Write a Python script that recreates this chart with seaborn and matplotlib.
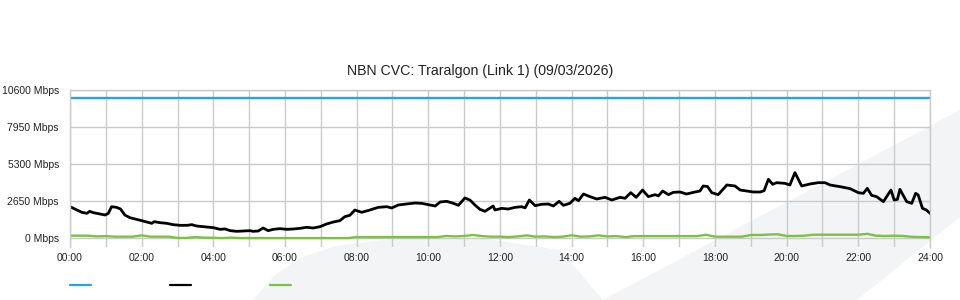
import matplotlib
matplotlib.use("Agg")
import matplotlib.pyplot as plt
import seaborn as sns
import pandas as pd
from matplotlib.lines import Line2D
from matplotlib.patches import Polygon

# ---- data ----
capacity_hours = [0, 24]
capacity_mbps = [10000, 10000]

traffic_hours = [0.00, 0.19, 0.33, 0.47, 0.55, 0.65, 0.84, 0.98, 1.07, 1.16, 1.30, 1.41, 1.53, 1.67,
                 1.86, 2.00, 2.14, 2.28, 2.35, 2.51, 2.70, 2.88, 3.07, 3.26, 3.40, 3.53, 3.72, 3.91,
                 4.00, 4.19, 4.33, 4.47, 4.65, 4.84, 5.02, 5.11, 5.25, 5.39, 5.53, 5.67, 5.86, 6.05,
                 6.23, 6.42, 6.60, 6.79, 6.98, 7.16, 7.35, 7.53, 7.67, 7.81, 7.95, 8.14, 8.37, 8.60,
                 8.84, 8.98, 9.16, 9.39, 9.63, 9.81, 10.00, 10.19, 10.33, 10.51, 10.70, 10.84, 11.02,
                 11.16, 11.30, 11.44, 11.58, 11.81, 11.86, 12.05, 12.23, 12.42, 12.60, 12.70, 12.82,
                 12.98, 13.16, 13.35, 13.49, 13.65, 13.77, 13.95, 14.09, 14.19, 14.33, 14.51, 14.70,
                 14.93, 15.12, 15.35, 15.49, 15.65, 15.80, 15.98, 16.14, 16.33, 16.42, 16.54, 16.70,
                 16.84, 17.02, 17.21, 17.40, 17.58, 17.67, 17.79, 17.91, 18.09, 18.33, 18.56, 18.70,
                 18.88, 19.07, 19.26, 19.37, 19.49, 19.61, 19.72, 19.95, 20.09, 20.23, 20.42, 20.65,
                 20.88, 21.07, 21.21, 21.49, 21.77, 22.00, 22.14, 22.25, 22.37, 22.51, 22.70, 22.91,
                 23.00, 23.09, 23.16, 23.35, 23.49, 23.60, 23.67, 23.79, 23.90, 24.00]
traffic_mbps = [2262, 2027, 1862, 1790, 1933, 1838, 1743, 1672, 1790, 2262, 2215, 2098, 1672, 1482,
                1364, 1269, 1174, 1079, 1198, 1126, 1079, 984, 937, 937, 984, 889, 842, 795,
                771, 652, 680, 557, 510, 533, 557, 510, 533, 747, 557, 652, 700, 652,
                676, 723, 795, 747, 842, 1031, 1174, 1269, 1553, 1648, 2027, 1862, 2027, 2215,
                2262, 2170, 2383, 2454, 2525, 2502, 2407, 2312, 2597, 2644, 2502, 2360, 2881,
                2739, 2383, 2074, 1933, 2312, 2027, 2145, 2098, 2215, 2262, 2180, 2739,
                2336, 2431, 2454, 2312, 2644, 2360, 2502, 2858, 2692, 3165, 2976, 2810,
                2929, 2739, 2929, 2858, 3260, 2929, 3449, 2976, 3118, 3030, 3379, 3118,
                3284, 3308, 3165, 3284, 3379, 3735, 3700, 3260, 3118, 3806, 3735, 3450,
                3379, 3308, 3308, 3403, 4211, 3855, 3971, 3924, 3806, 4685, 3735, 3877,
                3971, 3971, 3806, 3688, 3545, 3260, 3213, 3568, 3070, 2976, 2621, 3450,
                2739, 2780, 3497, 2621, 2502, 3213, 3100, 2145, 2027, 1790]

upload_hours = [i * 0.25 for i in range(97)]
upload_mbps = [200, 200, 200, 150, 170, 130, 130, 130, 220, 130, 130, 130,
               40, 40, 100, 60, 50, 30, 60, 30, 30, 30, 30, 30,
               30, 30, 30, 30, 30, 30, 30, 30, 100, 100, 100, 100,
               100, 100, 100, 100, 100, 100, 180, 150, 180, 250, 170, 130,
               130, 100, 150, 220, 130, 150, 100, 130, 230, 130, 150, 220,
               150, 170, 100, 170, 170, 170, 170, 170, 170, 170, 170, 260,
               130, 130, 130, 130, 250, 250, 280, 300, 180, 180, 200, 270,
               270, 270, 270, 270, 270, 330, 200, 180, 200, 180, 120, 100, 90]

x_tick_labels = ["00:00", "02:00", "04:00", "06:00", "08:00", "10:00", "12:00",
                 "14:00", "16:00", "18:00", "20:00", "22:00", "24:00"]
y_tick_values = [0, 2650, 5300, 7950, 10600]
y_tick_labels = ["0 Mbps", "2650 Mbps", "5300 Mbps", "7950 Mbps", "10600 Mbps"]
title = "NBN CVC: Traralgon (Link 1) (09/03/2026)"

# ---- style ----
sns.set_theme(style="white")
plt.rcParams["font.family"] = ["Liberation Sans", "DejaVu Sans"]

BLUE = "#27a2e2"
BLACK = "#000000"
GREEN = "#7cc242"
GRID = "#cacaca"
WATERMARK = "#f3f4f6"

fig = plt.figure(figsize=(9.6, 3.0), dpi=100)
fig.patch.set_facecolor("white")


def px(points):
    return [(x / 960, 1 - y / 300) for x, y in points]


# faint background swooshes (decoration)
fig.add_artist(Polygon(px([(253, 300), (275, 275), (300, 258), (335, 246), (400, 238),
                           (480, 238), (560, 250), (603, 300)]),
                       closed=True, facecolor=WATERMARK, edgecolor="none", zorder=0,
                       transform=fig.transFigure))
fig.add_artist(Polygon(px([(603, 300), (960, 110), (960, 217), (857, 300)]),
                       closed=True, facecolor=WATERMARK, edgecolor="none", zorder=0,
                       transform=fig.transFigure))

ax = fig.add_axes([70 / 960, 1 - 247 / 300, 860 / 960, (247 - 89.5) / 300])
ax.patch.set_alpha(0)
ax.set_zorder(1)

cap = pd.DataFrame({"h": capacity_hours, "v": capacity_mbps})
tr = pd.DataFrame({"h": traffic_hours, "v": traffic_mbps})
up = pd.DataFrame({"h": upload_hours, "v": upload_mbps})

sns.lineplot(data=cap, x="h", y="v", color=BLUE, lw=1.7, ax=ax)
sns.lineplot(data=tr, x="h", y="v", color=BLACK, lw=2.0, ax=ax)
sns.lineplot(data=up, x="h", y="v", color=GREEN, lw=1.7, ax=ax)

ax.set_xlim(0, 24)
ax.set_ylim(-605, 10600)
ax.set_xticks(range(0, 25, 2))
ax.set_xticklabels(x_tick_labels)
ax.set_xticks(range(0, 25), minor=True)
ax.set_yticks(y_tick_values)
ax.set_yticklabels(y_tick_labels)
ax.set_xlabel("")
ax.set_ylabel("")

ax.grid(True, which="both", axis="x", color=GRID, lw=1.0, zorder=0)
ax.grid(True, which="major", axis="y", color=GRID, lw=1.0, zorder=0)
ax.set_axisbelow(True)
ax.tick_params(axis="both", which="both", length=0, labelsize=7.5, colors="#222222")
ax.tick_params(axis="x", pad=4)
ax.tick_params(axis="y", pad=8)

for side in ["top", "right", "left"]:
    ax.spines[side].set_visible(True)
    ax.spines[side].set_color(GRID)
    ax.spines[side].set_linewidth(1.0)
ax.spines["bottom"].set_visible(False)

fig.text(0.5, 1 - 71 / 300, title, ha="center", va="center", fontsize=10.2, color="#222222")

# legend keys (no labels)
for x0, c in [(70, BLUE), (170, BLACK), (270, GREEN)]:
    fig.add_artist(Line2D([x0 / 960, (x0 + 21) / 960], [1 - 285 / 300] * 2,
                          color=c, lw=1.6, transform=fig.transFigure))

fig.savefig("out.png", dpi=100)
